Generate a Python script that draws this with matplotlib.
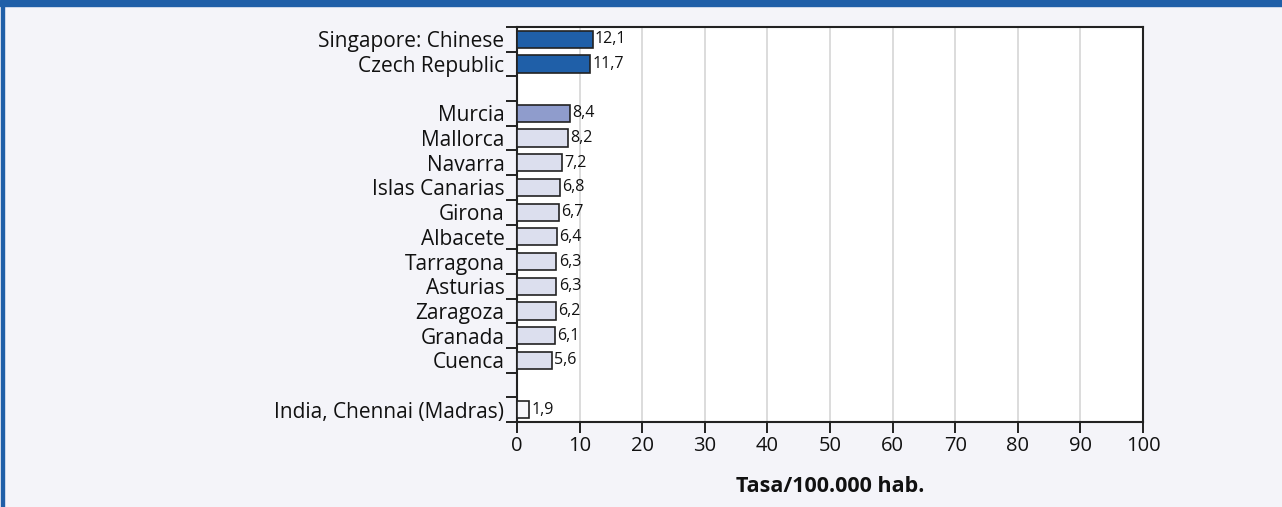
import numpy as np
import matplotlib.pyplot as plt
from matplotlib.ticker import FixedLocator

plt.rcParams['font.family'] = ['Open Sans', 'DejaVu Sans']

# Categorías de arriba abajo (None = hueco entre grupos)
labels = ['Singapore: Chinese', 'Czech Republic', None,
          'Murcia', 'Mallorca', 'Navarra', 'Islas Canarias', 'Girona',
          'Albacete', 'Tarragona', 'Asturias', 'Zaragoza', 'Granada', 'Cuenca',
          None, 'India, Chennai (Madras)']
values = [12.1, 11.7, None,
          8.4, 8.2, 7.2, 6.8, 6.7, 6.4, 6.3, 6.3, 6.2, 6.1, 5.6,
          None, 1.9]
groups = ['top', 'top', None,
          'murcia', 'esp', 'esp', 'esp', 'esp', 'esp', 'esp', 'esp', 'esp', 'esp', 'esp',
          None, 'low']

colors = {'top': '#1f5fa8', 'murcia': '#8f9ccc', 'esp': '#dcdfee', 'low': '#f7f7fb'}
bg = '#f4f4f9'
blue = '#1f5fa8'

fig = plt.figure(figsize=(12.82, 5.07), dpi=100, facecolor=bg)
ax = fig.add_axes([517 / 1282, 1 - 422 / 507, (1143 - 517) / 1282, (422 - 27) / 507])
ax.set_facecolor('white')

pos = np.arange(len(labels))
for p, lab, v, g in zip(pos, labels, values, groups):
    if v is None:
        continue
    ax.barh(p, v, height=0.7, color=colors[g], edgecolor='#222222', linewidth=1.2, zorder=3)
    ax.text(v + 0.35, p, f'{v:.1f}'.replace('.', ','), va='center', ha='left',
            fontsize=11.5, color='#111111', zorder=4)

ax.set_xlim(0, 100)
ax.set_ylim(len(labels) - 0.5, -0.5)
ax.set_xticks(np.arange(0, 101, 10))
ax.tick_params(axis='x', length=8, width=1.3, labelsize=14.5, pad=2, colors='#111111')

# Marcas en los límites de cada fila, etiquetas centradas en la fila
ax.yaxis.set_major_locator(FixedLocator(np.arange(-0.5, len(labels), 1.0)))
ax.set_yticklabels([])
ax.set_yticks([p for p, lab in zip(pos, labels) if lab], minor=True)
ax.set_yticklabels([lab for lab in labels if lab], minor=True)
ax.tick_params(axis='y', which='major', length=8, width=1.3, color='#111111')
ax.tick_params(axis='y', which='minor', length=0, labelsize=15, pad=9, labelcolor='#111111')

ax.grid(axis='x', color='#d9d9d9', linewidth=1.3, zorder=0)
ax.set_axisbelow(True)
for s in ax.spines.values():
    s.set_linewidth(1.5)
    s.set_color('#222222')

fig.text(830 / 1282, 1 - 487 / 507, 'Tasa/100.000 hab.', ha='center', va='center',
         fontsize=15.5, fontweight='bold', color='#111111')

# Marco azul superior e izquierdo
fig.patches.append(plt.Rectangle((0, 1 - 6 / 507), 1, 6 / 507, transform=fig.transFigure,
                                 color=blue, zorder=0))
fig.patches.append(plt.Rectangle((1 / 1282, 0), 3 / 1282, 1, transform=fig.transFigure,
                                 color=blue, zorder=0))

fig.savefig('out.png', dpi=100, facecolor=bg)
